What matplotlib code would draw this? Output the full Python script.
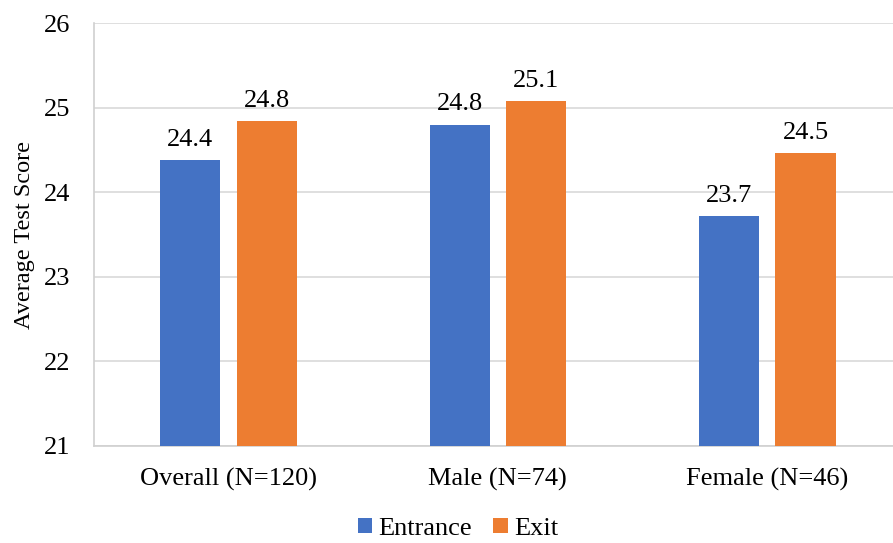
import numpy as np
import matplotlib.pyplot as plt

groups = ['Overall (N=120)', 'Male (N=74)', 'Female (N=46)']
entrance = [24.38, 24.80, 23.72]
exit_scores = [24.84, 25.08, 24.46]

plt.rcParams['font.family'] = 'Liberation Serif'

fig = plt.figure(figsize=(8.93, 5.43), dpi=100)
ax = fig.add_axes([0.105, 0.179, 0.905, 0.778])

x = np.arange(len(groups))
w = 0.223
off = 0.142
b1 = ax.bar(x - off, entrance, w, color='#4472C4', label='Entrance', zorder=3)
b2 = ax.bar(x + off, exit_scores, w, color='#ED7D31', label='Exit', zorder=3)

for bars in (b1, b2):
    for b in bars:
        h = b.get_height()
        ax.text(b.get_x() + b.get_width() / 2, h + 0.11, f'{h:.1f}',
                ha='center', va='bottom', fontsize=19)

ax.set_ylim(21, 26)
ax.set_xlim(-0.5, 2.5)
ax.set_yticks(range(21, 27))
ax.set_xticks(x)
ax.set_xticklabels(groups)
ax.tick_params(axis='both', length=0, labelsize=19)
ax.tick_params(axis='y', pad=17)
ax.tick_params(axis='x', pad=16)
ax.set_ylabel('Average Test Score', fontsize=17.5, labelpad=6)

ax.grid(axis='y', color='#D9D9D9', linewidth=1.2, zorder=0)
for s in ['top', 'right']:
    ax.spines[s].set_visible(False)
for s in ['left', 'bottom']:
    ax.spines[s].set_color('#D0D0D0')
    ax.spines[s].set_linewidth(1.2)

fig.legend(loc='lower center', bbox_to_anchor=(0.513, -0.038), ncol=2, frameon=False,
           fontsize=19, handlelength=0.55, handleheight=0.55, handletextpad=0.25,
           columnspacing=0.8)

fig.savefig('out.png', dpi=100)
